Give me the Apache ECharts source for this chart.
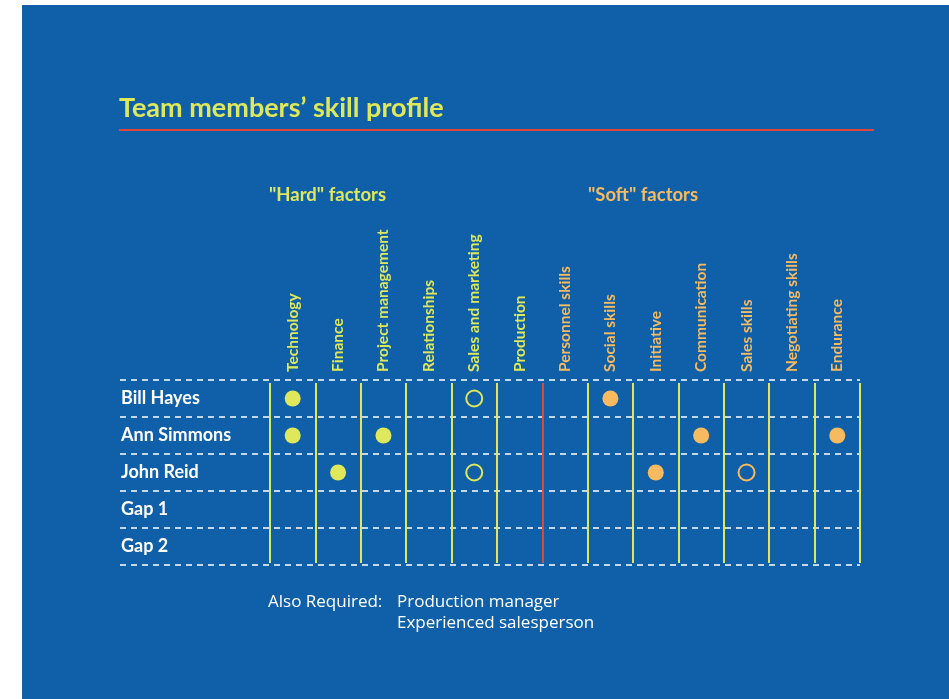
<!DOCTYPE html>
<html>
<head>
<meta charset="utf-8">
<script src="https://cdn.jsdelivr.net/npm/echarts@6/dist/echarts.min.js"></script>
<style>
  html, body { margin: 0; padding: 0; background: #ffffff; }
  #chart { width: 949px; height: 699px; }
</style>
</head>
<body>
<div id="chart"></div>
<script>
const skills = [
  "Technology", "Finance", "Project management", "Relationships",
  "Sales and marketing", "Production",
  "Personnel skills", "Social skills", "Initiative", "Communication",
  "Sales skills", "Negotiating skills", "Endurance"
];
const hardCount = 6; // first six are "hard" factors
const members = ["Bill Hayes", "Ann Simmons", "John Reid", "Gap 1", "Gap 2"];

// filled dot = skill present, ring = partly present
const fullSkills = [
  ["Technology", "Bill Hayes"],
  ["Social skills", "Bill Hayes"],
  ["Technology", "Ann Simmons"],
  ["Project management", "Ann Simmons"],
  ["Communication", "Ann Simmons"],
  ["Endurance", "Ann Simmons"],
  ["Finance", "John Reid"],
  ["Initiative", "John Reid"]
];
const partSkills = [
  ["Sales and marketing", "Bill Hayes"],
  ["Sales and marketing", "John Reid"],
  ["Sales skills", "John Reid"]
];
const alsoRequired = ["Production manager", "Experienced salesperson"];

const BLUE = "#0f60a8";
const YELLOW = "#dfe85a";
const ORANGE = "#f7ba5f";
const RED = "#e0463a";
const FONT = "Lato";
const BODY_FONT = "'Open Sans'";

const isHard = (name) => skills.indexOf(name) < hardCount;

const chart = echarts.init(document.getElementById("chart"));

// vertical separators: yellow, red between hard and soft
const sepColors = [];
for (let i = 0; i <= skills.length; i++) {
  sepColors.push(i === hardCount ? RED : YELLOW);
}

const fullData = fullSkills.map(d => ({
  value: d,
  itemStyle: { color: isHard(d[0]) ? YELLOW : ORANGE, opacity: 1 }
}));
const partData = partSkills.map(d => ({
  value: d,
  itemStyle: { color: "transparent", borderColor: isHard(d[0]) ? YELLOW : ORANGE, borderWidth: 2, opacity: 1 }
}));

chart.setOption({
  backgroundColor: BLUE,
  animation: false,
  textStyle: { fontFamily: FONT },
  grid: [
    { left: 120, right: 89, top: 380, bottom: 134 },   // rows + dashed lines
    { left: 270, right: 89, top: 380, bottom: 134 },   // dots + column labels
    { left: 270, right: 89, top: 383, bottom: 136 }    // vertical separators
  ],
  xAxis: [
    { gridIndex: 0, type: "value", min: 0, max: 1, show: false },
    {
      gridIndex: 1, type: "category", data: skills, position: "top",
      axisLine: { show: false }, axisTick: { show: false }, splitLine: { show: false },
      axisLabel: {
        interval: 0, rotate: -90, margin: 8,
        fontSize: 15.5, fontWeight: "bold", fontFamily: FONT,
        color: (v) => isHard(v) ? YELLOW : ORANGE
      }
    },
    {
      gridIndex: 2, type: "category", data: skills,
      axisLine: { show: false }, axisTick: { show: false }, axisLabel: { show: false },
      splitLine: { show: true, interval: 0, lineStyle: { color: sepColors, width: 2 } }
    }
  ],
  yAxis: [
    {
      gridIndex: 0, type: "category", data: members, inverse: true,
      axisLine: { show: false }, axisTick: { show: false },
      axisLabel: {
        inside: true, margin: 1, color: "#ffffff",
        fontSize: 18, fontWeight: "bold", fontFamily: FONT
      },
      splitLine: { show: true, interval: 0, lineStyle: { color: "#ffffff", width: 1.5, type: [6, 5] } }
    },
    { gridIndex: 1, type: "category", data: members, inverse: true, show: false },
    { gridIndex: 2, type: "value", show: false }
  ],
  series: [
    {
      type: "scatter", xAxisIndex: 1, yAxisIndex: 1,
      symbol: "circle", symbolSize: 16, data: fullData, z: 5
    },
    {
      type: "scatter", xAxisIndex: 1, yAxisIndex: 1,
      symbol: "circle", symbolSize: 16, data: partData, z: 5
    }
  ],
  graphic: [
    // white margins around the blue panel
    { type: "rect", left: 0, top: 0, shape: { width: 22, height: 699 }, style: { fill: "#ffffff" }, silent: true },
    { type: "rect", left: 0, top: 0, shape: { width: 949, height: 5 }, style: { fill: "#ffffff" }, silent: true },
    {
      type: "text", x: 119, y: 108,
      style: {
        text: "Team members\u2019 skill profile", fill: YELLOW,
        font: "bold 27px " + FONT, textVerticalAlign: "middle"
      }
    },
    {
      type: "line", shape: { x1: 119, y1: 130, x2: 874, y2: 130 },
      style: { stroke: RED, lineWidth: 2 }
    },
    {
      type: "text", x: 269, y: 195,
      style: { text: "\"Hard\" factors", fill: YELLOW, font: "bold 18.5px " + FONT, textVerticalAlign: "middle" }
    },
    {
      type: "text", x: 588, y: 195,
      style: { text: "\"Soft\" factors", fill: ORANGE, font: "bold 18.5px " + FONT, textVerticalAlign: "middle" }
    },
    {
      type: "text", x: 268, y: 602,
      style: { text: "Also Required:", fill: "#ffffff", font: "17px " + BODY_FONT, textVerticalAlign: "middle" }
    },
    {
      type: "text", x: 397, y: 602,
      style: { text: alsoRequired[0], fill: "#ffffff", font: "17px " + BODY_FONT, textVerticalAlign: "middle" }
    },
    {
      type: "text", x: 397, y: 623,
      style: { text: alsoRequired[1], fill: "#ffffff", font: "17px " + BODY_FONT, textVerticalAlign: "middle" }
    }
  ]
});
</script>
</body>
</html>
